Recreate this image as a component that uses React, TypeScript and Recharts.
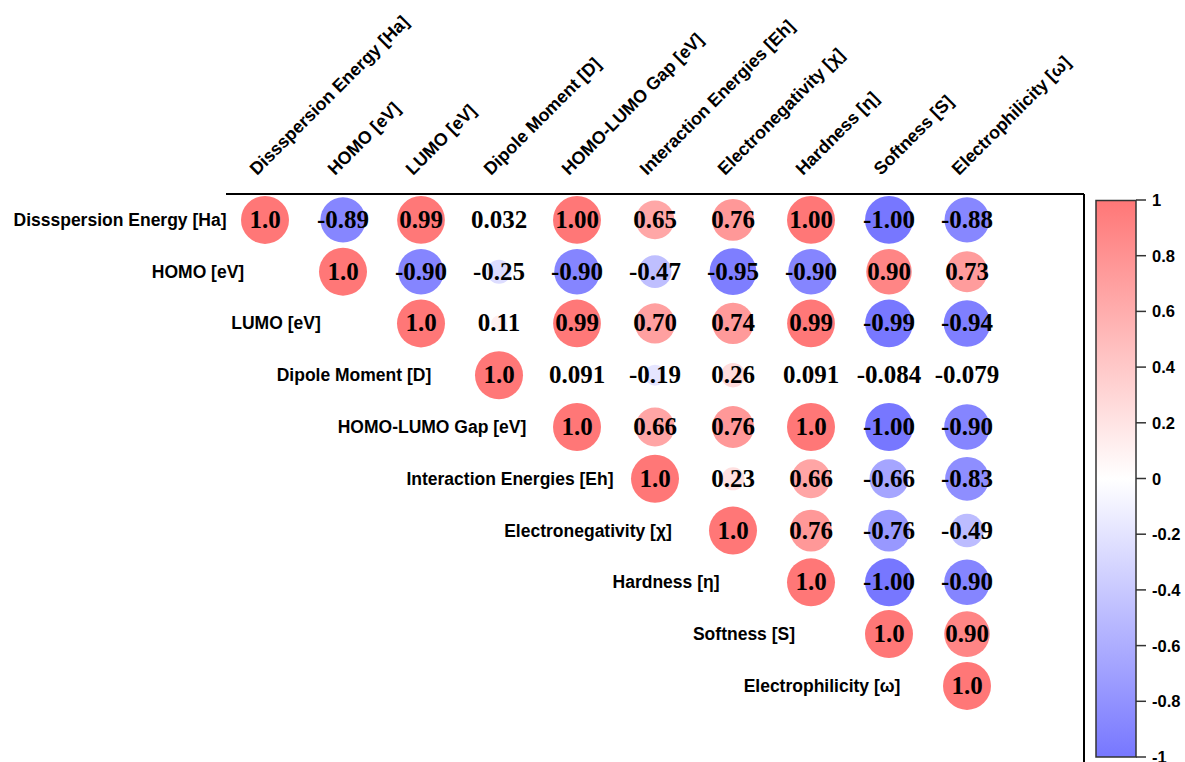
import React from 'react';
import { ScatterChart, Scatter, XAxis, YAxis, Customized } from 'recharts';

const variables = [
  'Dissspersion Energy [Ha]',
  'HOMO [eV]',
  'LUMO [eV]',
  'Dipole Moment [D]',
  'HOMO-LUMO Gap [eV]',
  'Interaction Energies [Eh]',
  'Electronegativity [χ]',
  'Hardness [η]',
  'Softness [S]',
  'Electrophilicity [ω]',
];

// upper-triangle rows, starting at the diagonal
const dispersionRow = [1, -0.89, 0.99, 0.032, 0.998, 0.65, 0.76, 0.998, -0.998, -0.88];
const homoRow = [1, -0.9, -0.25, -0.9, -0.47, -0.95, -0.9, 0.9, 0.73];
const lumoRow = [1, 0.11, 0.99, 0.7, 0.74, 0.99, -0.99, -0.94];
const dipoleRow = [1, 0.091, -0.19, 0.26, 0.091, -0.084, -0.079];
const gapRow = [1, 0.66, 0.76, 1, -0.998, -0.9];
const interactionRow = [1, 0.23, 0.66, -0.66, -0.83];
const electronegativityRow = [1, 0.76, -0.76, -0.49];
const hardnessRow = [1, -0.998, -0.9];
const softnessRow = [1, 0.9];
const electrophilicityRow = [1];

const colorbarTicks = [1, 0.8, 0.6, 0.4, 0.2, 0, -0.2, -0.4, -0.6, -0.8, -1];
const columnTicks = [0, 1, 2, 3, 4, 5, 6, 7, 8, 9];

const rows = [
  dispersionRow, homoRow, lumoRow, dipoleRow, gapRow,
  interactionRow, electronegativityRow, hardnessRow, softnessRow, electrophilicityRow,
];

const cells = rows.flatMap((row, i) =>
  row.map((v, k) => ({ x: i + k, y: i, v, diag: k === 0 }))
);
const diagonal = variables.map((name, i) => ({ x: i, y: i, name }));
const colorbarPoints = colorbarTicks.map((v) => ({ x: 10, y: v }));

const POS = [255, 119, 119];
const NEG = [119, 119, 255];
function colorFor(v: number) {
  const base = v >= 0 ? POS : NEG;
  const t = Math.min(1, Math.abs(v));
  const c = base.map((b) => Math.round(255 + (b - 255) * t));
  return `rgb(${c[0]},${c[1]},${c[2]})`;
}
function fmt(v: number) {
  if (Math.abs(v) === 1) return v > 0 ? '1.0' : '-1.0';
  if (Math.abs(v) >= 0.1) return v.toFixed(2);
  return v.toPrecision(2);
}

const LABEL_FONT = '"Liberation Sans", Arial, sans-serif';
const NUM_FONT = '"Liberation Serif", serif';

const CellShape = (props: any) => {
  const { cx, cy, payload } = props;
  const r = 24 * Math.sqrt(Math.abs(payload.v));
  return (
    <g>
      <circle cx={cx} cy={cy} r={r} fill={colorFor(payload.v)} />
      <text
        x={cx}
        y={cy}
        dy={8}
        textAnchor="middle"
        fontFamily={NUM_FONT}
        fontWeight="bold"
        fontSize={25}
        fill="#000"
      >
        {fmt(payload.v)}
      </text>
    </g>
  );
};

const RowLabel = (props: any) => {
  const { cx, cy, payload } = props;
  return (
    <text
      x={cx - 145}
      y={cy}
      dy={6}
      textAnchor="middle"
      fontFamily={LABEL_FONT}
      fontWeight="bold"
      fontSize={17.5}
      fill="#000"
    >
      {payload.name}
    </text>
  );
};

const ColumnTick = (props: any) => {
  const { x, y, payload } = props;
  const tx = x - 8;
  const ty = y - 18;
  return (
    <text
      x={tx}
      y={ty}
      transform={`rotate(-45 ${tx} ${ty})`}
      textAnchor="start"
      fontFamily={LABEL_FONT}
      fontWeight="bold"
      fontSize={17.8}
      fill="#000"
    >
      {variables[payload.value]}
    </text>
  );
};

const ColorbarTick = (props: any) => {
  const { x, y, payload } = props;
  return (
    <text
      x={x}
      y={y}
      dy={6}
      textAnchor="start"
      fontFamily={LABEL_FONT}
      fontWeight="bold"
      fontSize={16.5}
      fill="#000"
    >
      {String(payload.value)}
    </text>
  );
};

const ColorBar = () => (
  <g>
    <defs>
      <linearGradient id="cbGrad" x1="0" y1="0" x2="0" y2="1">
        <stop offset="0%" stopColor={colorFor(1)} />
        <stop offset="50%" stopColor="#ffffff" />
        <stop offset="100%" stopColor={colorFor(-1)} />
      </linearGradient>
    </defs>
    <rect x={1096} y={200.5} width={40} height={556.5} fill="url(#cbGrad)" stroke="#333" strokeWidth={1.5} />
  </g>
);

const Nothing = () => <g />;

export default function App() {
  return (
    <div style={{ position: 'absolute', left: 0, top: 0, background: '#fff' }}>
      <ScatterChart width={1185} height={762} margin={{ top: 0, right: 0, bottom: 0, left: 226 }}>
        <XAxis
          xAxisId="cols"
          type="number"
          dataKey="x"
          orientation="top"
          domain={[-0.5, 10.5]}
          ticks={columnTicks}
          interval={0}
          height={194}
          axisLine={{ stroke: '#000', strokeWidth: 2 }}
          tickLine={false}
          tickSize={0}
          tickMargin={0}
          tick={<ColumnTick />}
        />
        <Customized component={ColorBar} />
        <YAxis
          yAxisId="zcb"
          type="number"
          dataKey="y"
          orientation="right"
          domain={[-1, 1]}
          ticks={colorbarTicks}
          interval={0}
          width={49}
          padding={{ top: 6, bottom: 5 }}
          axisLine={false}
          tickSize={10}
          tickMargin={6}
          tickLine={{ stroke: '#333', strokeWidth: 1.5 }}
          tick={<ColorbarTick />}
        />
        <YAxis
          yAxisId="arows"
          type="number"
          dataKey="y"
          orientation="right"
          domain={[-0.5, 10.47]}
          reversed
          width={52}
          tick={false}
          tickLine={false}
          axisLine={{ stroke: '#000', strokeWidth: 2 }}
        />
        <Scatter
          xAxisId="cols"
          yAxisId="zcb"
          data={colorbarPoints}
          shape={<Nothing />}
          isAnimationActive={false}
        />
        <Scatter
          xAxisId="cols"
          yAxisId="arows"
          data={diagonal}
          shape={<RowLabel />}
          isAnimationActive={false}
        />
        <Scatter
          xAxisId="cols"
          yAxisId="arows"
          data={cells}
          shape={<CellShape />}
          isAnimationActive={false}
        />
      </ScatterChart>
    </div>
  );
}
